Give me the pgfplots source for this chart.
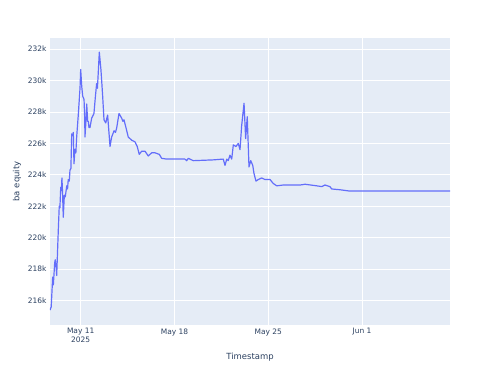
\documentclass[border=0pt]{standalone}
\usepackage{pgfplots}
\pgfplotsset{compat=1.18}
\usepackage{fontspec}
\setmainfont{DejaVu Sans}
\definecolor{plotbg}{HTML}{E5ECF6}
\definecolor{pline}{HTML}{636EFA}
\definecolor{ptext}{HTML}{2A3F5F}
\pgfplotstableread{
d v
-2.29 215.4
-2.20 215.6
-2.09 217.5
-2.04 217.0
-1.94 218.4
-1.90 218.6
-1.84 218.2
-1.79 217.6
-1.67 220.5
-1.60 222.0
-1.55 221.9
-1.49 223.2
-1.44 223.0
-1.40 223.8
-1.35 222.8
-1.30 221.3
-1.22 222.7
-1.15 222.6
-1.04 223.3
-0.98 223.1
-0.93 223.7
-0.85 223.6
-0.80 224.3
-0.73 224.4
-0.67 226.6
-0.60 226.5
-0.55 226.7
-0.50 224.7
-0.43 225.6
-0.36 225.4
-0.30 226.4
-0.18 227.8
-0.05 229.5
0.00 230.7
0.08 229.6
0.15 229.0
0.25 228.8
0.30 227.6
0.32 226.4
0.40 227.5
0.45 228.5
0.52 227.4
0.57 227.4
0.62 227.0
0.69 227.0
0.82 227.6
0.99 227.9
1.10 229.0
1.19 229.8
1.25 229.5
1.39 231.8
1.51 230.7
1.58 229.8
1.64 229.0
1.74 227.5
1.87 227.3
2.01 227.8
2.19 225.8
2.31 226.4
2.49 226.8
2.60 226.7
2.69 227.0
2.86 227.9
3.06 227.6
3.15 227.4
3.23 227.5
3.38 227.0
3.55 226.4
3.81 226.2
4.05 226.1
4.22 225.8
4.37 225.3
4.55 225.5
4.80 225.5
5.04 225.2
5.30 225.4
5.54 225.4
5.87 225.3
6.04 225.05
6.42 225.0
7.00 225.0
7.78 225.0
7.91 224.9
8.03 225.05
8.40 224.9
9.00 224.92
9.90 224.95
10.64 225.0
10.77 224.6
10.90 225.0
11.01 224.9
11.14 225.25
11.27 225.0
11.39 225.9
11.59 225.8
11.76 226.0
11.89 225.6
12.01 227.1
12.19 228.55
12.31 226.3
12.43 227.7
12.56 224.5
12.69 224.9
12.84 224.6
12.93 224.1
13.08 223.6
13.25 223.7
13.51 223.8
13.75 223.7
14.13 223.7
14.37 223.45
14.63 223.3
15.10 223.35
16.37 223.35
16.74 223.4
17.61 223.3
17.99 223.25
18.23 223.35
18.60 223.25
18.73 223.1
19.35 223.05
20.04 222.97
27.56 222.97
}\equity
\begin{document}
\begin{tikzpicture}
\useasboundingbox (-50bp,-50bp) rectangle (450bp,325bp);
\begin{axis}[
  at={(0,0)}, anchor=south west,
  scale only axis, width=400bp, height=287bp,
  xmin=-2.29, xmax=27.56, ymin=214.45, ymax=232.7,
  axis background/.style={fill=plotbg},
  axis line style={draw=none},
  grid=major, grid style={white, line width=0.8pt},
  major tick length=0pt,
  xtick={0,7,14,21},
  xticklabels={{May 11\\2025},{May 18},{May 25},{Jun 1}},
  xticklabel style={align=center, font=\fontsize{7.5}{9}\selectfont, text=ptext},
  ytick={216,218,...,232},
  yticklabels={216k,218k,220k,222k,224k,226k,228k,230k,232k},
  yticklabel style={font=\fontsize{7.5}{9}\selectfont, text=ptext},
  xlabel={Timestamp}, ylabel={ba equity},
  xlabel style={font=\fontsize{8.5}{10}\selectfont, text=ptext, at={(axis description cs:0.5,0)}, anchor=center, yshift=-32bp},
  ylabel style={font=\fontsize{8.5}{10}\selectfont, text=ptext},
  clip=true,
]
\addplot[pline, line width=1.2pt, line join=round] table[x=d, y=v] {\equity};
\end{axis}
\end{tikzpicture}
\end{document}
